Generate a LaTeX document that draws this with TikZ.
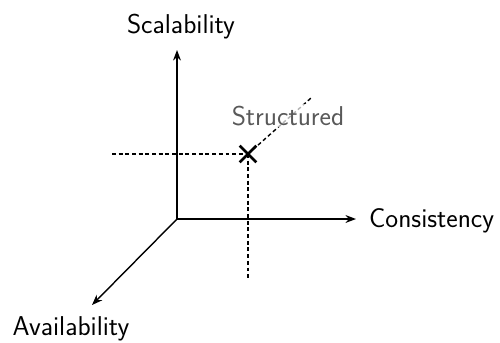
\documentclass[tikz,border=0pt]{standalone}
\usetikzlibrary{arrows.meta,shapes.misc}
\begin{document}
\begin{tikzpicture}[x=0.02cm,y=-0.02cm,
    axis/.style={line width=0.8pt,-{Stealth[length=6pt,width=4.5pt]}},
    guide/.style={line width=0.8pt,dash pattern=on 2.2pt off 1.6pt},
    lbl/.style={font=\sffamily\fontsize{15.5}{18}\selectfont,inner sep=1pt}]
  \useasboundingbox (0,0) rectangle (500,342);

  \coordinate (o) at (177,219);
  \coordinate (ys) at (177,50);
  \coordinate (xs) at (356,219);
  \coordinate (zs) at (92,305);
  \coordinate (left) at (112,154);
  \coordinate (down) at (248,280);
  \coordinate (up) at (311,98);

  \draw[axis] (o) -- (ys);
  \draw[axis] (o) -- (xs);
  \draw[axis] (o) -- (zs);

  \node[lbl,anchor=base] (scal) at (181,33) {Scalability};
  \node[lbl,anchor=base west] (cons) at (367,227) {Consistency};
  \node[lbl,anchor=base] (avail) at (71,335) {Availability};

  \node[cross out,draw,line width=1.5pt,minimum size=8pt,inner sep=0pt] (st) at (248,154) {};
  \draw[guide] (left) -- (st.center);
  \draw[guide] (st.center) -- (down);
  \draw[guide] (st.center) -- (up);
  \node[lbl,anchor=base,text=black!65,fill=white,fill opacity=0.7,text opacity=1] (strc) at (288,125) {Structured};
\end{tikzpicture}
\end{document}
